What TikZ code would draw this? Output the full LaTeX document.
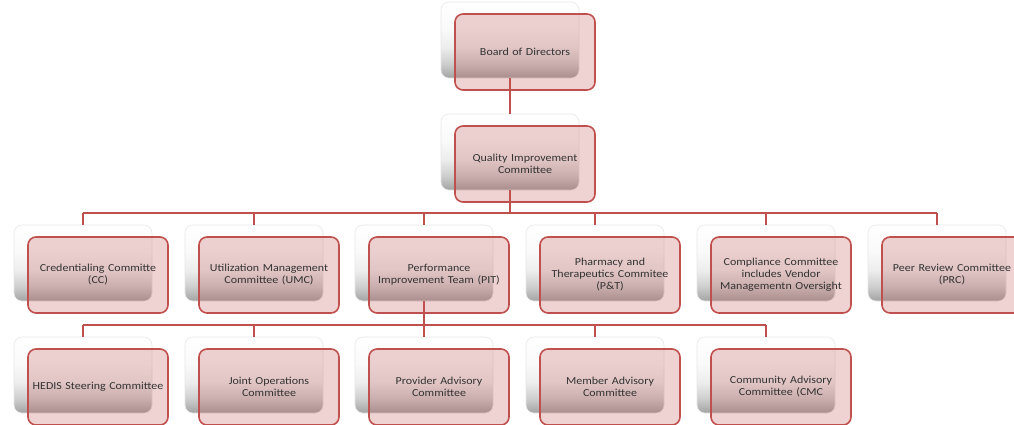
\documentclass[tikz,border=0pt]{standalone}
\usepackage{fontspec}
\setmainfont{Carlito}[FakeStretch=1.12]
\usetikzlibrary{calc,positioning}
\definecolor{qired}{RGB}{192,80,77}
\definecolor{qitext}{RGB}{50,50,50}
\pgfdeclareverticalshading{plate}{100bp}{color(0bp)=(black!36); color(25bp)=(black!36);
  color(34bp)=(black!20); color(45bp)=(black!7); color(58bp)=(black!2); color(75bp)=(white); color(100bp)=(white)}
% one chart unit: grey back plate + pink front box
\newcommand{\orgunit}[4]{%
  \node[backbox] (#1s) at (#2,#3) {};
  \node[frontbox] (#1) at ($(#1s)+(15,12)$) {#4};
}

\begin{document}
\begin{tikzpicture}[x=1pt,y=-1pt,
  backbox/.style={rounded corners=8pt,minimum width=138pt,minimum height=76pt,inner sep=0pt,
    shading=plate,draw=black!9,line width=0.6pt},
  frontbox/.style={rounded corners=8pt,minimum width=140pt,minimum height=76pt,inner sep=2pt,
    draw=qired,line width=1.6pt,fill=qired,fill opacity=0.25,text opacity=1,
    text width=134pt,align=center,text=qitext,font=\fontsize{10.7}{12}\selectfont},
  link/.style={draw=qired,line width=1.6pt}]
\fill[white] (0,0) rectangle (1014,424);
\clip (0,0) rectangle (1014,424);
\orgunit{bod}{510}{40}{Board of Directors}
\orgunit{qi}{510}{152}{Quality Improvement\\Committee}
% second row
\orgunit{cc}{83}{263}{Credentialing Committe\\(CC)}
\orgunit{umc}{254}{263}{Utilization Management\\Committee (UMC)}
\orgunit{pit}{424}{263}{Performance\\Improvement Team (PIT)}
\orgunit{pt}{595}{263}{Pharmacy and\\Therapeutics Commitee\\(P\&T)}
\orgunit{cmp}{766}{263}{Compliance Committee\\includes Vendor\\Managementn Oversight}
\orgunit{prc}{937}{263}{Peer Review Committee\\(PRC)}
% third row
\orgunit{hed}{83}{375}{HEDIS Steering Committee}
\orgunit{jop}{254}{375}{Joint Operations\\Committee}
\orgunit{pac}{424}{375}{Provider Advisory\\Committee}
\orgunit{mac}{595}{375}{Member Advisory\\Committee}
\orgunit{cac}{766}{375}{Community Advisory\\Committee (CMC}
% connectors
\coordinate (bar1) at (0,213);
\coordinate (bar2) at (0,325);
\draw[link] (bods.south) -- (qis.north);
\draw[link] (qis.south) -- (qis.south |- bar1);
\draw[link] (ccs.north |- bar1) -- (prcs.north |- bar1);
\foreach \n in {cc,umc,pit,pt,cmp,prc}
  \draw[link] (\n s.north |- bar1) -- (\n s.north);
\draw[link] (pits.south) -- (pits.south |- bar2);
\draw[link] (heds.north |- bar2) -- (cacs.north |- bar2);
\foreach \n in {hed,jop,pac,mac,cac}
  \draw[link] (\n s.north |- bar2) -- (\n s.north);
\end{tikzpicture}
\end{document}
